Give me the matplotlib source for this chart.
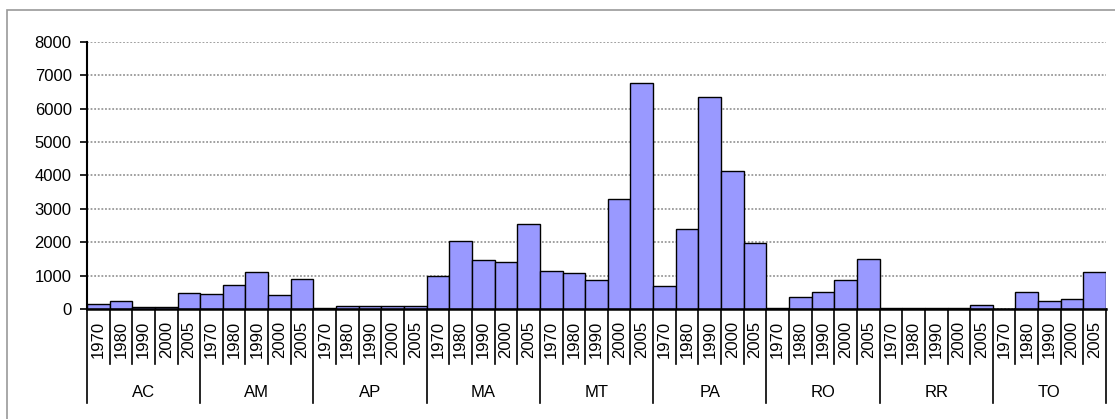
import numpy as np
import matplotlib.pyplot as plt
from matplotlib.patches import Rectangle
import matplotlib.transforms as mtransforms

plt.rcParams['font.family'] = ['Liberation Sans', 'DejaVu Sans']

# Dados
estados = ['AC', 'AM', 'AP', 'MA', 'MT', 'PA', 'RO', 'RR', 'TO']
anos = ['1970', '1980', '1990', '2000', '2005']

ac = [150, 240, 70, 70, 490]
am = [450, 715, 1110, 420, 890]
ap = [20, 80, 80, 80, 80]
ma = [980, 2030, 1480, 1420, 2550]
mt = [1140, 1080, 860, 3310, 6780]
pa = [700, 2400, 6350, 4140, 1980]
ro = [30, 350, 520, 860, 1490]
rr = [20, 20, 20, 20, 130]
to = [0, 520, 250, 300, 1110]

valores = ac + am + ap + ma + mt + pa + ro + rr + to
n_anos = len(anos)
posicoes = np.arange(len(valores))

fig = plt.figure(figsize=(11.15, 4.19), dpi=100)
ax = fig.add_axes([0.078, 0.2625, 0.914, 0.6373])

# Moldura cinza
fig.patches.append(Rectangle((0.0065, -0.1), 1.1, 1.075, transform=fig.transFigure,
                             fill=False, edgecolor='#999999', linewidth=1.2))

ax.bar(posicoes, valores, width=1.0, color='#9999FF', edgecolor='black', linewidth=1.0, zorder=3)

ax.set_xlim(-0.5, len(valores) - 0.5)
ax.set_ylim(0, 8000)
ax.set_yticks(range(0, 8001, 1000))
ax.yaxis.grid(True, color='#999999', linewidth=1.3, linestyle=(0, (1, 1)))
ax.set_axisbelow(True)
ax.tick_params(axis='y', direction='out', length=5, width=1.2, labelsize=12, pad=6)
ax.set_xticks([])

for lado in ['top', 'right']:
    ax.spines[lado].set_visible(False)
ax.spines['left'].set_linewidth(1.5)
ax.spines['bottom'].set_linewidth(1.8)
ax.spines['bottom'].set_zorder(4)

# Eixo de categorias em dois níveis
trans = mtransforms.blended_transform_factory(ax.transData, ax.transAxes)
for i in range(len(valores) + 1):
    x = i - 0.5
    fundo = -0.352 if i % n_anos == 0 else -0.205
    ax.plot([x, x], [0, fundo], color='black', linewidth=1.2, transform=trans, clip_on=False)

for i in posicoes:
    ax.text(i, -0.045, anos[i % n_anos], rotation=90, ha='center', va='top',
            fontsize=12, transform=trans)

for j, uf in enumerate(estados):
    centro = j * n_anos + (n_anos - 1) / 2
    ax.text(centro, -0.311, uf, ha='center', va='center', fontsize=12, transform=trans)

fig.savefig('out.png', dpi=100)
